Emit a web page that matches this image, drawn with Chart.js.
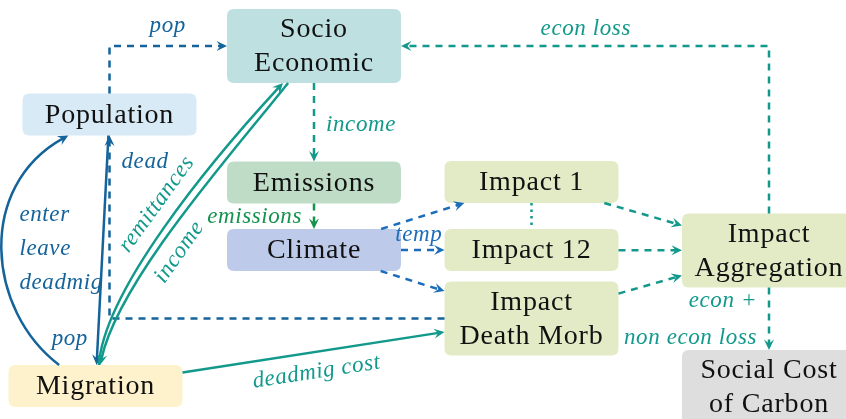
<!DOCTYPE html>
<html><head><meta charset="utf-8">
<script src="https://cdn.jsdelivr.net/npm/chart.js@4"></script>
<style>html,body{margin:0;padding:0;background:#fff}#wrap{width:846px;height:419px;position:relative}</style>
</head><body><div id="wrap"><canvas id="c"></canvas></div>
<script>
// ---- diagram data ----
const nodeIds = ['socio','pop','emis','clim','imp1','imp12','impdm','agg','mig','scc'];
const nodeLabels = [['Socio','Economic'],['Population'],['Emissions'],['Climate'],['Impact 1'],['Impact 12'],['Impact','Death Morb'],['Impact','Aggregation'],['Migration'],['Social Cost','of Carbon']];
const nodeX = [314, 109.5, 314, 314, 531.5, 531.5, 531.5, 769, 95.5, 769];
const nodeY = [46, 114.5, 182.5, 250, 182, 250, 318.5, 250.5, 386, 387];
const edgeFrom = ['pop','agg','socio','emis','clim','clim','clim','imp1','imp1','imp12','impdm','agg','impdm','pop','mig','mig','socio','mig'];
const edgeTo   = ['socio','socio','emis','clim','imp1','imp12','impdm','imp12','agg','agg','agg','scc','pop','mig','pop','socio','mig','impdm'];
const edgeLabels = [['pop'],['econ loss'],['income'],['emissions'],[],['temp'],[],[],[],[],[],['econ +','non econ loss'],['dead'],['pop'],['enter','leave','deadmig'],['remittances'],['income'],['deadmig cost']];

// ---- styles ----
const COL = {dark:'#14639b', blue:'#1b6db9', teal:'#12998b', green:'#15924d'};
const nodeFill = ['#bfe0e1','#d7eaf6','#bfdcc7','#bdcae9','#e3ebc6','#e3ebc6','#e3ebc6','#e3ebc6','#fef2cc','#dedede'];
const D = [7,6], DOT = [2.5,4], SOLID = [];
const edgeStyle = [
 {route:'|-', dash:D, col:'dark', lab:{t:0.641,dx:0,dy:-20,align:'center'}},
 {route:'|-', dash:D, col:'teal', lab:{t:0.655,dx:0,dy:-17,align:'center'}},
 {route:'line', dash:D, col:'teal', lab:{t:0.5,dx:12,dy:3,align:'left'}},
 {route:'line', dash:D, col:'green', lab:{t:0.5,dx:-12,dy:1,align:'right'}},
 {route:'line', dash:D, col:'blue'},
 {route:'line', dash:D, col:'blue', lab:{t:0.5,dx:-4,dy:-15,align:'center'}},
 {route:'line', dash:D, col:'blue'},
 {route:'line', dash:DOT, col:'teal', noArrow:true},
 {route:'line', dash:D, col:'teal'},
 {route:'line', dash:D, col:'teal'},
 {route:'line', dash:D, col:'teal'},
 {route:'line', dash:D, col:'teal', lab:{t:0.5,dx:-12,dy:0.5,align:'right',gap:37}},
 {route:'-|', dash:D, col:'dark', lab:{t:0.948,dx:12,dy:0,align:'left'}},
 {route:'line', dash:SOLID, col:'dark', lab:{t:0.886,dx:-10,dy:0,align:'right'}},
 {route:'curve', dash:SOLID, col:'dark', c:{a0:150,a1:207,out:143,outLen:90,inA:209,inLen:100}, lab:{t:0.5,dx:15.5,dy:1,align:'left',gap:34}},
 {route:'curve', dash:SOLID, col:'teal', c:{a0:81,a1:230,out:86,outLen:74,inA:227.3,inLen:104.7}, lab:{t:0.53,sloped:true,perp:-20}},
 {route:'curve', dash:SOLID, col:'teal', c:{a0:235,a1:77.7,out:231.6,outLen:87,inA:77.7,inLen:81}, lab:{t:0.57,sloped:true,perp:18}},
 {route:'line', dash:SOLID, col:'teal', lab:{t:0.5,sloped:true,perp:20}}
];
const NODE_W = 174, H1 = 42, H2 = 74, RAD = 7;
const NODE_FONT = '28px "Liberation Serif", "Times New Roman", serif';
const LAB_FONT = 'italic 23px "Liberation Serif", "Times New Roman", serif';

function diagramPlugin() {
  return {
    id:'diagram',
    afterDatasetsDraw(chart) {
      const ctx = chart.ctx, sx = chart.scales.x, sy = chart.scales.y;
      const boxes = nodeIds.map((id,i) => {
        const cx = sx.getPixelForValue(nodeX[i]), cy = sy.getPixelForValue(nodeY[i]);
        const h = nodeLabels[i].length > 1 ? H2 : H1;
        const hw = Math.abs(sx.getPixelForValue(nodeX[i] + NODE_W/2) - cx);
        const hh = Math.abs(sy.getPixelForValue(nodeY[i] + h/2) - cy);
        return {cx, cy, hw, hh};
      });
      const B = id => boxes[nodeIds.indexOf(id)];
      function rayBorder(b, dx, dy) {
        const tx = dx !== 0 ? b.hw/Math.abs(dx) : Infinity;
        const ty = dy !== 0 ? b.hh/Math.abs(dy) : Infinity;
        const t = Math.min(tx, ty);
        return [b.cx + dx*t, b.cy + dy*t];
      }
      function angBorder(b, a) {
        const r = a*Math.PI/180;
        return rayBorder(b, Math.cos(r), -Math.sin(r));
      }
      // nodes
      ctx.save();
      boxes.forEach((b,i) => {
        const x = b.cx-b.hw, y = b.cy-b.hh, w = 2*b.hw, h = 2*b.hh;
        ctx.beginPath();
        ctx.moveTo(x+RAD,y); ctx.lineTo(x+w-RAD,y); ctx.quadraticCurveTo(x+w,y,x+w,y+RAD);
        ctx.lineTo(x+w,y+h-RAD); ctx.quadraticCurveTo(x+w,y+h,x+w-RAD,y+h);
        ctx.lineTo(x+RAD,y+h); ctx.quadraticCurveTo(x,y+h,x,y+h-RAD);
        ctx.lineTo(x,y+RAD); ctx.quadraticCurveTo(x,y,x+RAD,y); ctx.closePath();
        ctx.fillStyle = nodeFill[i]; ctx.fill();
        ctx.fillStyle = '#111'; ctx.font = NODE_FONT; ctx.textAlign = 'center'; ctx.textBaseline = 'middle';
        try { ctx.letterSpacing = '0.8px'; } catch(err) {}
        const n = nodeLabels[i].length;
        nodeLabels[i].forEach((s,k) => ctx.fillText(s, b.cx, b.cy + 1 + (k-(n-1)/2)*34));
        try { ctx.letterSpacing = '0px'; } catch(err) {}
      });
      // edges
      const labelsToDraw = [];
      edgeFrom.forEach((fid, e) => {
        const st = edgeStyle[e], col = COL[st.col];
        const a = B(fid), b = B(edgeTo[e]);
        let pts = null, bez = null;
        if (st.route === 'line') {
          pts = [rayBorder(a, b.cx-a.cx, b.cy-a.cy), rayBorder(b, a.cx-b.cx, a.cy-b.cy)];
        } else if (st.route === '|-') {
          const p0 = [a.cx, b.cy < a.cy ? a.cy-a.hh : a.cy+a.hh];
          const p2 = [b.cx > a.cx ? b.cx-b.hw : b.cx+b.hw, b.cy];
          pts = [p0, [a.cx, b.cy], p2];
        } else if (st.route === '-|') {
          const p0 = [b.cx < a.cx ? a.cx-a.hw : a.cx+a.hw, a.cy];
          const p2 = [b.cx, b.cy < a.cy ? b.cy+b.hh : b.cy-b.hh];
          pts = [p0, [b.cx, a.cy], p2];
        } else {
          const c = st.c;
          const p0 = angBorder(a, c.a0), p3 = angBorder(b, c.a1);
          const r1 = c.out*Math.PI/180, r2 = c.inA*Math.PI/180;
          const c1 = [p0[0]+c.outLen*Math.cos(r1), p0[1]-c.outLen*Math.sin(r1)];
          const c2 = [p3[0]+c.inLen*Math.cos(r2), p3[1]-c.inLen*Math.sin(r2)];
          bez = [p0,c1,c2,p3];
        }
        ctx.strokeStyle = col; ctx.lineWidth = 2.5; ctx.lineCap = 'butt'; ctx.lineJoin = 'miter';
        ctx.setLineDash(st.dash);
        let tip, dir;
        if (pts) {
          const n = pts.length;
          tip = pts[n-1];
          const pr = pts[n-2];
          let dx = tip[0]-pr[0], dy = tip[1]-pr[1]; const L = Math.hypot(dx,dy); dir = [dx/L, dy/L];
          const sh = st.noArrow ? 0 : 6;
          ctx.beginPath(); ctx.moveTo(pts[0][0], pts[0][1]);
          for (let k=1;k<n-1;k++) ctx.lineTo(pts[k][0], pts[k][1]);
          ctx.lineTo(tip[0]-dir[0]*sh, tip[1]-dir[1]*sh); ctx.stroke();
        } else {
          tip = bez[3];
          let dx = tip[0]-bez[2][0], dy = tip[1]-bez[2][1]; const L = Math.hypot(dx,dy); dir=[dx/L,dy/L];
          ctx.beginPath(); ctx.moveTo(bez[0][0], bez[0][1]);
          ctx.bezierCurveTo(bez[1][0], bez[1][1], bez[2][0]-dir[0]*6, bez[2][1]-dir[1]*6, tip[0]-dir[0]*6, tip[1]-dir[1]*6);
          ctx.stroke();
        }
        ctx.setLineDash([]);
        if (!st.noArrow) {
          const [x,y] = tip, ux = dir[0], uy = dir[1], px = -uy, py = ux;
          const L = 10.5, W = 5, N = 6.5;
          ctx.beginPath(); ctx.moveTo(x,y);
          ctx.lineTo(x-ux*L+px*W, y-uy*L+py*W);
          ctx.lineTo(x-ux*N, y-uy*N);
          ctx.lineTo(x-ux*L-px*W, y-uy*L-py*W);
          ctx.closePath(); ctx.fillStyle = col; ctx.fill();
        }
        const lb = st.lab, texts = edgeLabels[e];
        if (lb && texts.length) {
          let p, tang;
          if (pts) {
            const segs = []; let tot = 0;
            for (let k=1;k<pts.length;k++){ const l = Math.hypot(pts[k][0]-pts[k-1][0], pts[k][1]-pts[k-1][1]); segs.push(l); tot += l; }
            let d = lb.t*tot, k = 0;
            while (k < segs.length-1 && d > segs[k]) { d -= segs[k]; k++; }
            const f = d/segs[k];
            p = [pts[k][0]+(pts[k+1][0]-pts[k][0])*f, pts[k][1]+(pts[k+1][1]-pts[k][1])*f];
            tang = [pts[k+1][0]-pts[k][0], pts[k+1][1]-pts[k][1]];
          } else {
            const t = lb.t, u = 1-t;
            const c = [u*u*u, 3*u*u*t, 3*u*t*t, t*t*t];
            p = [0,1].map(j => c[0]*bez[0][j]+c[1]*bez[1][j]+c[2]*bez[2][j]+c[3]*bez[3][j]);
            const d = [3*u*u, 6*u*t, 3*t*t];
            tang = [0,1].map(j => d[0]*(bez[1][j]-bez[0][j]) + d[1]*(bez[2][j]-bez[1][j]) + d[2]*(bez[3][j]-bez[2][j]));
          }
          labelsToDraw.push({p, tang, lb, texts, col});
        }
      });
      ctx.font = LAB_FONT; ctx.textBaseline = 'middle';
      try { ctx.letterSpacing = '0.6px'; } catch(err) {}
      labelsToDraw.forEach(o => {
        ctx.fillStyle = o.col;
        if (o.lb.sloped) {
          let th = Math.atan2(o.tang[1], o.tang[0]);
          if (th > Math.PI/2) th -= Math.PI; if (th < -Math.PI/2) th += Math.PI;
          const bx = -Math.sin(th), by = Math.cos(th);
          ctx.save();
          ctx.translate(o.p[0] + bx*o.lb.perp, o.p[1] + by*o.lb.perp);
          ctx.rotate(th); ctx.textAlign = 'center';
          ctx.fillText(o.texts[0], 0, 0);
          ctx.restore();
        } else {
          ctx.textAlign = o.lb.align;
          const n = o.texts.length, g = o.lb.gap || 30;
          o.texts.forEach((s,k) => ctx.fillText(s, o.p[0]+o.lb.dx, o.p[1]+o.lb.dy + (k-(n-1)/2)*g));
        }
      });
      ctx.restore();
    }
  };
}

new Chart(document.getElementById('c'), {
  type: 'scatter',
  data: { datasets: [{ data: nodeIds.map((id,i) => ({x: nodeX[i], y: nodeY[i]})), pointRadius: 0, pointHoverRadius: 0 }] },
  options: {
    responsive: true, maintainAspectRatio: false, animation: false,
    layout: { padding: 0 },
    events: [],
    plugins: { legend: { display: false }, tooltip: { enabled: false } },
    scales: {
      x: { type: 'linear', min: 0, max: 846, display: false },
      y: { type: 'linear', min: 0, max: 419, reverse: true, display: false }
    }
  },
  plugins: [diagramPlugin()]
});
</script>
</body></html>
